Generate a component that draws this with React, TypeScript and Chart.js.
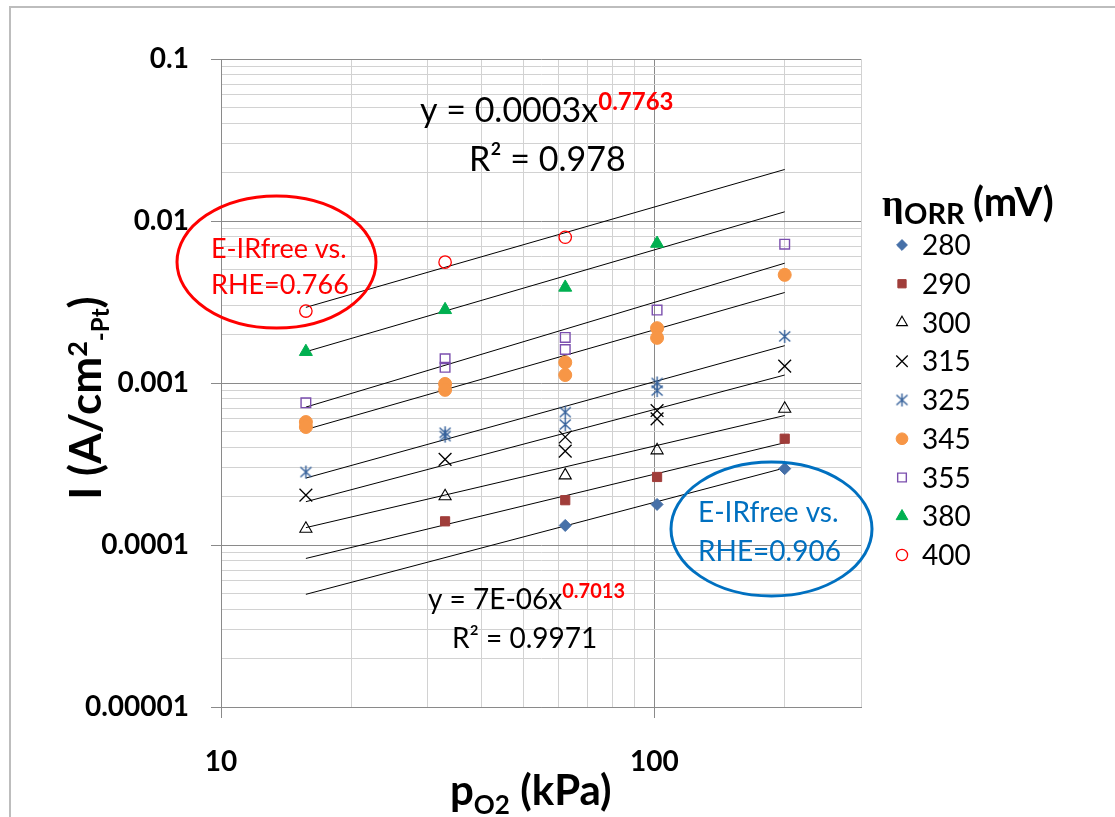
import React, { useEffect, useRef } from 'react';
import { Chart, registerables } from 'chart.js';
import { drawPoint } from 'chart.js/helpers';

Chart.register(...registerables);

// ---------------- data ----------------
const seriesLabels = ['280', '290', '300', '315', '325', '345', '355', '380', '400'];

const x280 = [62.3, 101.5, 200];
const y280 = [0.000132, 0.000178, 0.000296];
const x290 = [32.9, 62.3, 101.5, 200];
const y290 = [0.00014, 0.000189, 0.000263, 0.000453];
const x300 = [15.7, 32.9, 62.3, 101.5, 200];
const y300 = [0.000126, 0.0002, 0.000269, 0.000384, 0.000693];
const x315 = [15.7, 32.9, 62.3, 62.3, 101.5, 101.5, 200];
const y315 = [0.000203, 0.000338, 0.000464, 0.00038, 0.000676, 0.000601, 0.00127];
const x325 = [15.7, 32.9, 32.9, 62.3, 62.3, 101.5, 101.5, 200];
const y325 = [0.000282, 0.000493, 0.00047, 0.000661, 0.000554, 0.001, 0.000898, 0.00194];
const x345 = [15.7, 15.7, 32.9, 32.9, 62.3, 62.3, 101.5, 101.5, 200];
const y345 = [0.000574, 0.000535, 0.000987, 0.000907, 0.00134, 0.00112, 0.00218, 0.0019, 0.00465];
const x355 = [15.7, 32.9, 32.9, 62.3, 62.3, 101.5, 200];
const y355 = [0.000754, 0.00141, 0.00125, 0.00191, 0.00161, 0.00282, 0.00719];
const x380 = [15.7, 32.9, 62.3, 101.5];
const y380 = [0.00156, 0.00283, 0.00389, 0.00726];
const x400 = [15.7, 32.9, 62.3];
const y400 = [0.00278, 0.00557, 0.00794];

const seriesX = [x280, x290, x300, x315, x325, x345, x355, x380, x400];
const seriesY = [y280, y290, y300, y315, y325, y345, y355, y380, y400];

// power-law trendlines (end points)
const trendX = [15.7, 200];
const trendStart = [0.0000496, 0.0000826, 0.000128, 0.000185, 0.000259, 0.000516, 0.00071, 0.00156, 0.00293];
const trendEnd = [0.000299, 0.000428, 0.00063, 0.00112, 0.0017, 0.00362, 0.00549, 0.0114, 0.0208];

// axes
const xMin = 10;
const xMax = 300;
const xGridValues = [10, 20, 30, 40, 50, 60, 70, 80, 90, 100, 200, 300];
const xTickValues = [10, 100];
const xTickLabels = ['10', '100'];
const yMin = 0.00001;
const yMax = 0.1;
const yTickValues = [0.00001, 0.0001, 0.001, 0.01, 0.1];
const yTickLabels = ['0.00001', '0.0001', '0.001', '0.01', '0.1'];
const yGridValues: number[] = [];
yTickValues.forEach((d, i) => {
  if (i === yTickValues.length - 1) { yGridValues.push(d); return; }
  for (let k = 1; k <= 9; k++) yGridValues.push(d * k);
});

// ---------------- styles ----------------
const MAJOR = '#8a8a8a';
const MINOR = '#d2d2d2';
const LATO = 'Lato, "Open Sans", sans-serif';

function makeAsterisk(color: string) {
  const c = document.createElement('canvas');
  c.width = 15;
  c.height = 15;
  const g = c.getContext('2d')!;
  g.strokeStyle = color;
  g.lineWidth = 1.4;
  g.beginPath();
  g.moveTo(7.5, 1);
  g.lineTo(7.5, 14);
  g.moveTo(2, 2.5);
  g.lineTo(13, 12.5);
  g.moveTo(13, 2.5);
  g.lineTo(2, 12.5);
  g.stroke();
  return c;
}

type Sty = { ps: any; r: number; bg: string; bc: string; bw: number };
function buildStyles(): Sty[] {
  return [
    { ps: 'rectRot', r: 6, bg: '#4670A8', bc: '#4670A8', bw: 1 },
    { ps: 'rect', r: 6.5, bg: '#A03D3A', bc: '#A03D3A', bw: 1 },
    { ps: 'triangle', r: 7, bg: 'rgba(0,0,0,0)', bc: '#000000', bw: 1.1 },
    { ps: 'crossRot', r: 9, bg: '#000000', bc: '#000000', bw: 1.3 },
    { ps: makeAsterisk('#34609A'), r: 7, bg: '#34609A', bc: '#34609A', bw: 1 },
    { ps: 'circle', r: 6.5, bg: '#F79646', bc: '#F79646', bw: 1 },
    { ps: 'rect', r: 6.8, bg: 'rgba(0,0,0,0)', bc: '#7B4FAE', bw: 1.4 },
    { ps: 'triangle', r: 7.5, bg: '#00B050', bc: '#00B050', bw: 1 },
    { ps: 'circle', r: 6.2, bg: 'rgba(0,0,0,0)', bc: '#FF0000', bw: 1.3 },
  ];
}

const isDecade = (v: number) => Math.abs(Math.log10(v) - Math.round(Math.log10(v))) < 1e-6;
const labelFor = (v: number, vals: number[], labels: string[]) => {
  const i = vals.findIndex((t) => Math.abs(t - v) / t < 1e-6);
  return i >= 0 ? labels[i] : '';
};

type Run = { t: string; f: string; c: string; dy?: number };
function drawRuns(ctx: CanvasRenderingContext2D, x: number, y: number, runs: Run[]) {
  let cx = x;
  for (const r of runs) {
    ctx.font = r.f;
    ctx.fillStyle = r.c;
    ctx.fillText(r.t, cx, y + (r.dy || 0));
    cx += ctx.measureText(r.t).width;
  }
  return cx;
}
function runsWidth(ctx: CanvasRenderingContext2D, runs: Run[]) {
  let w = 0;
  for (const r of runs) {
    ctx.font = r.f;
    w += ctx.measureText(r.t).width;
  }
  return w;
}

const decorPlugin = {
  id: 'decor',
  beforeDraw(chart: any) {
    const ctx: CanvasRenderingContext2D = chart.ctx;
    ctx.save();
    ctx.fillStyle = '#ffffff';
    ctx.fillRect(0, 0, chart.width, chart.height);
    ctx.strokeStyle = '#bdbdbd';
    ctx.lineWidth = 2;
    ctx.beginPath();
    ctx.moveTo(10, chart.height);
    ctx.lineTo(10, 7);
    ctx.lineTo(chart.width, 7);
    ctx.stroke();
    ctx.restore();
  },
  afterDraw(chart: any) {
    const ctx: CanvasRenderingContext2D = chart.ctx;
    const styles: Sty[] = chart.options.plugins.decor.styles;
    ctx.save();
    ctx.textAlign = 'left';
    ctx.textBaseline = 'alphabetic';

    // y axis title (rotated)
    const yRuns: Run[] = [
      { t: 'I (A/cm', f: `bold 44px ${LATO}`, c: '#000' },
      { t: '2', f: `bold 27px ${LATO}`, c: '#000', dy: -14 },
      { t: '-Pt', f: `bold 24px ${LATO}`, c: '#000', dy: 8 },
      { t: ')', f: `bold 44px ${LATO}`, c: '#000' },
    ];
    ctx.save();
    ctx.translate(101, 398);
    ctx.rotate(-Math.PI / 2);
    drawRuns(ctx, -runsWidth(ctx, yRuns) / 2, 0, yRuns);
    ctx.restore();

    // x axis title
    drawRuns(ctx, 450, 805, [
      { t: 'p', f: `bold 42px ${LATO}`, c: '#000' },
      { t: 'O2', f: `bold 26px ${LATO}`, c: '#000', dy: 9 },
      { t: ' (kPa)', f: `bold 42px ${LATO}`, c: '#000' },
    ]);

    // equations
    drawRuns(ctx, 420, 122, [
      { t: 'y = 0.0003x', f: `34px ${LATO}`, c: '#000' },
      { t: '0.7763', f: `bold 24px ${LATO}`, c: '#FF0000', dy: -12 },
    ]);
    drawRuns(ctx, 469, 171, [{ t: 'R² = 0.978', f: `34px ${LATO}`, c: '#000' }]);
    drawRuns(ctx, 428, 609, [
      { t: 'y = 7E-06x', f: `28px ${LATO}`, c: '#000' },
      { t: '0.7013', f: `bold 20px ${LATO}`, c: '#FF0000', dy: -11 },
    ]);
    drawRuns(ctx, 452, 648, [{ t: 'R² = 0.9971', f: `28px ${LATO}`, c: '#000' }]);

    // ellipses + notes
    ctx.lineWidth = 3;
    ctx.strokeStyle = '#FF0000';
    ctx.beginPath();
    ctx.ellipse(276.5, 262, 99.5, 66, 0, 0, Math.PI * 2);
    ctx.stroke();
    drawRuns(ctx, 211, 258, [{ t: 'E-IRfree vs.', f: `27px ${LATO}`, c: '#FF0000' }]);
    drawRuns(ctx, 211, 294, [{ t: 'RHE=0.766', f: `27px ${LATO}`, c: '#FF0000' }]);

    ctx.strokeStyle = '#0070C0';
    ctx.beginPath();
    ctx.ellipse(771.5, 529, 100.5, 67, 0, 0, Math.PI * 2);
    ctx.stroke();
    drawRuns(ctx, 698, 522, [{ t: 'E-IRfree vs.', f: `28px ${LATO}`, c: '#0070C0' }]);
    drawRuns(ctx, 698, 561, [{ t: 'RHE=0.906', f: `28px ${LATO}`, c: '#0070C0' }]);

    // legend
    drawRuns(ctx, 882, 216, [{ t: 'η', f: `bold 38px "Liberation Serif", serif`, c: '#000' }]);
    drawRuns(ctx, 904, 224, [{ t: 'ORR', f: `bold 29px ${LATO}`, c: '#000' }]);
    drawRuns(ctx, 973, 216, [{ t: '(mV)', f: `bold 40px ${LATO}`, c: '#000' }]);
    seriesLabels.forEach((lab, i) => {
      const cy = 245 + i * 38.75;
      const s = styles[i];
      ctx.save();
      ctx.fillStyle = s.bg;
      ctx.strokeStyle = s.bc;
      ctx.lineWidth = s.bw;
      drawPoint(ctx, { pointStyle: s.ps, rotation: 0, radius: s.r * 0.9, borderWidth: s.bw } as any, 902, cy);
      ctx.restore();
      drawRuns(ctx, 922, cy + 10, [{ t: lab, f: `28px ${LATO}`, c: '#000' }]);
    });
    ctx.restore();
  },
};

export default function App() {
  const ref = useRef<HTMLCanvasElement | null>(null);
  useEffect(() => {
    document.body.style.margin = '0';
    const styles = buildStyles();
    const scatterSets = seriesLabels.map((lab, i) => ({
      label: lab,
      data: seriesX[i].map((x, j) => ({ x, y: seriesY[i][j] })),
      pointStyle: styles[i].ps,
      pointRadius: styles[i].r,
      pointBackgroundColor: styles[i].bg,
      pointBorderColor: styles[i].bc,
      pointBorderWidth: styles[i].bw,
      showLine: false,
      order: 1,
    }));
    const trendSets = seriesLabels.map((lab, i) => ({
      label: 'trend ' + lab,
      data: trendX.map((x, j) => ({ x, y: j === 0 ? trendStart[i] : trendEnd[i] })),
      showLine: true,
      borderColor: '#000000',
      borderWidth: 1,
      pointRadius: 0,
      fill: false,
      order: 2,
    }));
    const chart = new Chart(ref.current!, {
      type: 'scatter',
      data: { datasets: [...scatterSets, ...trendSets] as any },
      plugins: [decorPlugin as any],
      options: {
        animation: false,
        responsive: false,
        devicePixelRatio: 1,
        layout: { padding: { left: 0, right: 254, top: 59, bottom: 0 } },
        plugins: {
          legend: { display: false },
          tooltip: { enabled: false },
          decor: { styles } as any,
        } as any,
        scales: {
          x: {
            type: 'logarithmic',
            min: xMin,
            max: xMax,
            afterBuildTicks: (s: any) => { s.ticks = xGridValues.map((v) => ({ value: v })); },
            afterFit: (s: any) => { s.height = 110; },
            ticks: {
              autoSkip: false,
              maxRotation: 0,
              minRotation: 0,
              padding: 27,
              color: '#000',
              font: { family: LATO, weight: 'bold', size: 28 },
              callback: (v: any) => labelFor(Number(v), xTickValues, xTickLabels),
            },
            grid: {
              color: (c: any) => (c.tick && isDecade(c.tick.value) ? MAJOR : MINOR),
              tickColor: (c: any) => (c.tick && isDecade(c.tick.value) ? MAJOR : 'rgba(0,0,0,0)'),
              tickLength: 11,
              lineWidth: 1,
            },
            border: { color: MAJOR, width: 1 },
          },
          y: {
            type: 'logarithmic',
            min: yMin,
            max: yMax,
            afterBuildTicks: (s: any) => { s.ticks = yGridValues.map((v) => ({ value: v })); },
            afterFit: (s: any) => { s.width = 221; },
            ticks: {
              autoSkip: false,
              padding: 22,
              color: '#000',
              font: { family: LATO, weight: 'bold', size: 28 },
              callback: (v: any) => labelFor(Number(v), yTickValues, yTickLabels),
            },
            grid: {
              color: (c: any) => (c.tick && isDecade(c.tick.value) ? MAJOR : MINOR),
              tickColor: (c: any) => (c.tick && isDecade(c.tick.value) ? MAJOR : 'rgba(0,0,0,0)'),
              tickLength: 10,
              lineWidth: 1,
            },
            border: { color: MAJOR, width: 1 },
          },
        },
      } as any,
    });
    return () => chart.destroy();
  }, []);
  return (
    <div style={{ position: 'relative', width: 1115, height: 817 }}>
      <canvas ref={ref} width={1115} height={817} style={{ display: 'block' }} />
    </div>
  );
}
